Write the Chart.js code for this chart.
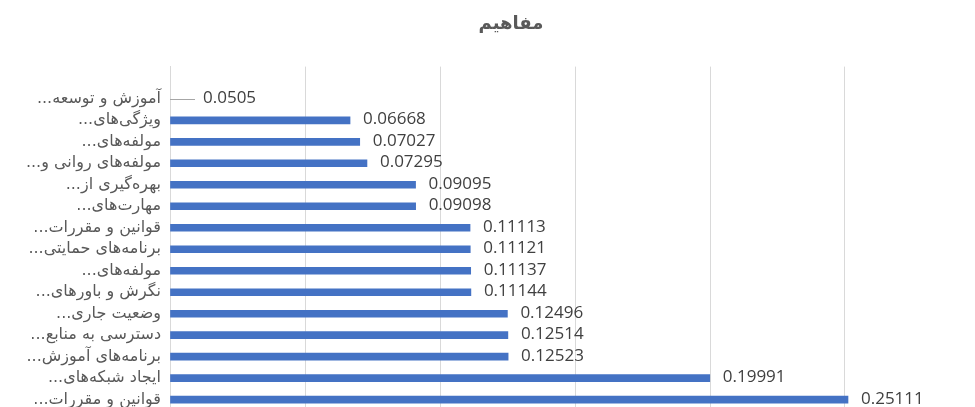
<!DOCTYPE html>
<html>
<head>
<meta charset="utf-8">
<script src="https://cdn.jsdelivr.net/npm/chart.js@4.4.0/dist/chart.umd.min.js"></script>
<style>
  html, body { margin: 0; padding: 0; overflow: hidden; background: #fff; }
  #wrap { width: 990px; height: 429px; }
</style>
</head>
<body>
<div id="wrap"><canvas id="chart" dir="rtl"></canvas></div>
<script>
// categories, top to bottom (first slot is empty in the original)
var categories = [
  '',
  'آموزش و توسعه...',
  'ویژگی‌های...',
  'مولفه‌های...',
  'مولفه‌های روانی و...',
  'بهره‌گیری از...',
  'مهارت‌های...',
  'قوانین و مقررات...',
  'برنامه‌های حمایتی...',
  'مولفه‌های...',
  'نگرش و باورهای...',
  'وضعیت جاری...',
  'دسترسی به منابع...',
  'برنامه‌های آموزش...',
  'ایجاد شبکه‌های...',
  'قوانین و مقررات...'
];
var values = [null, 0.0505, 0.06668, 0.07027, 0.07295, 0.09095, 0.09098, 0.11113,
  0.11121, 0.11137, 0.11144, 0.12496, 0.12514, 0.12523, 0.19991, 0.25111];
var valueText = ['', '0.0505', '0.06668', '0.07027', '0.07295', '0.09095', '0.09098', '0.11113',
  '0.11121', '0.11137', '0.11144', '0.12496', '0.12514', '0.12523', '0.19991', '0.25111'];
// the first bar is not drawn in the original, only its label with a leader line
var detached = [1];

var barColors = values.map(function(v, i) {
  return detached.indexOf(i) >= 0 ? 'rgba(0,0,0,0)' : '#4472c4';
});

// the original title sits a bit right of the canvas centre
var shiftTitle = {
  id: 'shiftTitle',
  afterLayout: function(chart) {
    if (chart.titleBlock) chart.titleBlock.left += 42;
  }
};

var valueLabels = {
  id: 'valueLabels',
  afterDatasetsDraw: function(chart) {
    var ctx = chart.ctx;
    var meta = chart.getDatasetMeta(0);
    var x0 = chart.scales.x.getPixelForValue(0);
    ctx.save();
    ctx.direction = 'ltr';
    ctx.font = '17px "Open Sans"';
    ctx.fillStyle = '#404040';
    ctx.textAlign = 'left';
    ctx.textBaseline = 'middle';
    meta.data.forEach(function(bar, i) {
      if (values[i] == null) return;
      if (detached.indexOf(i) >= 0) {
        ctx.strokeStyle = '#a6a6a6';
        ctx.lineWidth = 1;
        ctx.beginPath();
        ctx.moveTo(x0, Math.round(bar.y) + 0.5);
        ctx.lineTo(x0 + 25, Math.round(bar.y) + 0.5);
        ctx.stroke();
        ctx.fillText(valueText[i], x0 + 33, bar.y - 1);
      } else {
        ctx.fillText(valueText[i], bar.x + 13, bar.y - 1);
      }
    });
    ctx.restore();
  }
};

new Chart(document.getElementById('chart'), {
  type: 'bar',
  data: {
    labels: categories,
    datasets: [{
      data: values,
      backgroundColor: barColors,
      barThickness: 7
    }]
  },
  options: {
    indexAxis: 'y',
    responsive: true,
    maintainAspectRatio: false,
    animation: false,
    layout: { padding: { left: 0, right: 10, top: 0, bottom: 0 } },
    plugins: {
      legend: { display: false },
      tooltip: { enabled: false },
      title: {
        display: true,
        text: 'مفاهیم',
        color: '#595959',
        font: { family: 'DejaVu Sans', size: 18, weight: 'bold' },
        padding: { top: 14, bottom: 31 }
      }
    },
    scales: {
      x: {
        min: 0,
        max: 0.3,
        ticks: { display: false, stepSize: 0.05 },
        grid: { color: '#d9d9d9', drawTicks: false },
        border: { display: false },
        afterFit: function(s) { s.height = 2; }
      },
      y: {
        ticks: {
          color: '#595959',
          font: { family: 'DejaVu Sans', size: 16 },
          padding: 9,
          autoSkip: false
        },
        grid: { display: false, drawTicks: false },
        border: { color: '#d9d9d9' },
        afterFit: function(s) { s.width = 170; }
      }
    }
  },
  plugins: [shiftTitle, valueLabels]
});
</script>
</body>
</html>
